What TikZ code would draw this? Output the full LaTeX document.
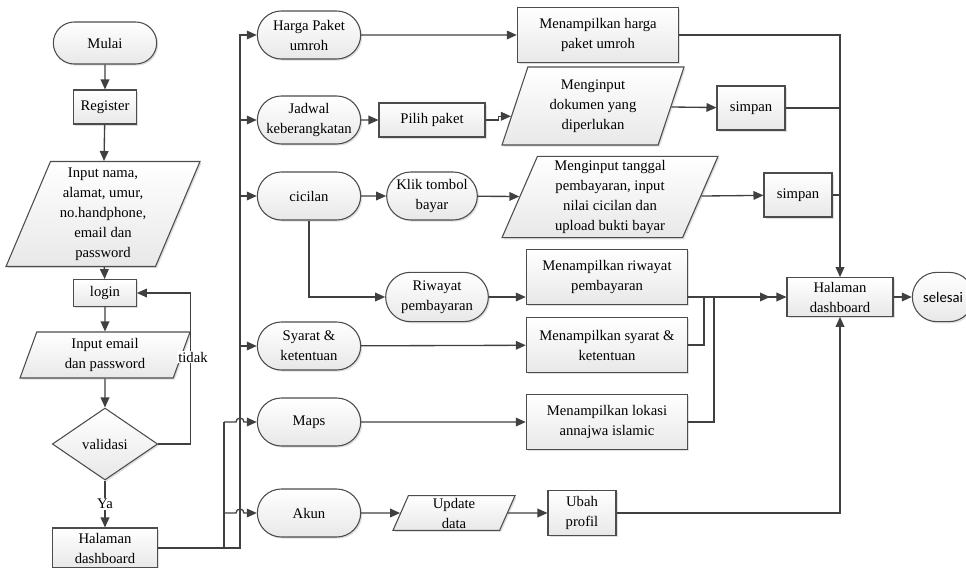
\documentclass[tikz,border=0pt]{standalone}
\usepackage{fontspec}
\setmainfont{Liberation Serif}
\newfontfamily\sansf{Carlito}
\usetikzlibrary{shapes.geometric,shapes.misc,arrows.meta,calc,shadows}

\begin{document}
\begin{tikzpicture}[x=0.75pt,y=-0.75pt,
  font=\fontsize{11}{15}\selectfont,
  base/.style={draw=black!70, line width=0.8pt, top color=white, bottom color=black!9,
    drop shadow={shadow xshift=1.2pt,shadow yshift=-1.2pt,opacity=0.25},
    align=center, inner sep=1pt},
  box/.style={base, rectangle},
  term/.style={base, rounded rectangle},
  io/.style={base, trapezium, trapezium left angle=65, trapezium right angle=115,
    trapezium stretches body},
  dec/.style={base, diamond},
  line/.style={draw=black!75, line width=1pt},
  arr/.style={line, -{Triangle[length=7.5pt,width=6.5pt]}}]
\useasboundingbox (0,0) rectangle (966,567);

% kolom kiri
\node[term, minimum width=79.5pt, minimum height=31.5pt] (mulai) at (105,43) {Mulai};
\node[box, minimum width=47pt, minimum height=25.5pt] (register) at (105,107) {Register};
\node[io, minimum width=145.5pt, minimum height=78.75pt] (inp1) at (103,214)
  {Input nama,\\alamat, umur,\\no.handphone,\\email dan\\password};
\node[box, minimum width=47pt, minimum height=20pt] (login) at (105,293) {login};
\node[io, minimum width=127.5pt, minimum height=34.5pt] (inp2) at (105,355)
  {Input email\\dan password};
\node[dec, minimum width=79pt, minimum height=54pt, inner sep=0pt] (valid) at (105,444) {validasi};
\node[box, minimum width=79pt, minimum height=30pt] (hal1) at (105,548) {Halaman\\dashboard};

% menu
\node[term, minimum width=79.5pt, minimum height=36pt] (harga) at (309,35) {Harga Paket\\umroh};
\node[term, minimum width=79.5pt, minimum height=36pt] (jadwal) at (309,120) {Jadwal\\keberangkatan};
\node[term, minimum width=79.5pt, minimum height=36pt] (cicilan) at (309,196) {cicilan};
\node[term, minimum width=79.5pt, minimum height=36pt] (syarat) at (309,346) {Syarat \&\\ketentuan};
\node[term, minimum width=79.5pt, minimum height=36pt] (maps) at (309,422) {Maps};
\node[term, minimum width=79.5pt, minimum height=36pt] (akun) at (309,513) {Akun};

\node[box, minimum width=79.5pt, minimum height=25.5pt] (pilih) at (432,120) {Pilih paket};
\node[term, minimum width=70pt, minimum height=36pt] (klik) at (432,196) {Klik tombol\\bayar};
\node[term, minimum width=79pt, minimum height=37pt] (riwayat) at (437,297) {Riwayat\\pembayaran};
\node[io, minimum width=91.5pt, minimum height=26pt] (update) at (454,513) {Update\\data};

% proses
\node[box, minimum width=121pt, minimum height=41pt] (mharga) at (598,35) {Menampilkan harga\\paket umroh};
\node[io, minimum width=136.5pt, minimum height=58.5pt] (doc) at (593,106)
  {Menginput\\dokumen yang\\diperlukan};
\node[io, minimum width=162pt, minimum height=61pt] (tgl) at (610,197)
  {Menginput tanggal\\pembayaran, input\\nilai cicilan dan\\upload bukti bayar};
\node[box, minimum width=121pt, minimum height=41pt] (mriwayat) at (607,277) {Menampilkan riwayat\\pembayaran};
\node[box, minimum width=121pt, minimum height=41pt] (msyarat) at (607,345) {Menampilkan syarat \&\\ketentuan};
\node[box, minimum width=121pt, minimum height=41pt] (mlokasi) at (607,422) {Menampilkan lokasi\\annajwa islamic};
\node[box, minimum width=51pt, minimum height=34pt] (ubah) at (582,513) {Ubah\\profil};
\node[box, minimum width=51pt, minimum height=33pt] (simpan1) at (751,108) {simpan};
\node[box, minimum width=51pt, minimum height=33pt] (simpan2) at (798,195) {simpan};
\node[box, minimum width=79.5pt, minimum height=29pt] (hal2) at (840,297) {Halaman\\dashboard};
\node[term, minimum width=48pt, minimum height=37pt, font=\sansf\fontsize{11}{15}\selectfont] (selesai) at (943,297) {selesai};

\coordinate (bus) at (240,548);
\coordinate (bus2) at (224,548);
\coordinate (m1) at (704,297);
\coordinate (m2) at (714,297);
\coordinate (m3) at (770,297);

% alur login
\draw[arr] (mulai) -- (register);
\draw[arr] (register) -- (inp1);
\draw[arr] (inp1) -- (login);
\draw[arr] (login) -- (inp2);
\draw[arr] (inp2) -- (valid);
\draw[arr] (valid) -- node[fill=white, inner sep=1pt] (ya) {Ya} (hal1);
\draw[arr] (valid.east) -- ++(32,0) |- (login.east);
\node[fill=white, inner sep=1pt] (tidak) at (193,357) {tidak};

% percabangan menu
\draw[arr] (hal1.east) -- (bus) |- (harga.west);
\foreach \n in {jadwal,cicilan,syarat}
\draw[arr] (bus |- \n.west) -- (\n.west);
\draw[line] (bus2) -- (bus2 |- maps.west);
\foreach \n in {maps,akun}
\draw[arr] (bus2 |- \n.west) -- ++(12,0) arc[start angle=180,end angle=0,radius=3pt] -- (\n.west);

\draw[arr] (harga) -- (mharga);
\draw[arr] (jadwal) -- (pilih);
\draw[arr] (pilih.east) -- ++(13,0) |- ($(doc.bottom left corner)!0.37!(doc.top left corner)$);
\draw[arr] (doc) -- (simpan1);
\draw[arr] (cicilan) -- (klik);
\draw[arr] (klik) -- (tgl);
\draw[arr] (tgl) -- (simpan2);
\draw[arr] (cicilan.south) |- (riwayat.west);
\draw[arr] (riwayat.east) -- (riwayat.east -| mriwayat.west);
\draw[arr] (syarat) -- (msyarat);
\draw[arr] (maps) -- (mlokasi);
\draw[arr] (akun) -- (update);
\draw[arr] (update) -- (ubah);

% ke dashboard
\draw[arr] (mharga.east) -| (hal2.north);
\draw[line] (simpan1.east) -- (simpan1.east -| hal2.north);
\draw[line] (simpan2.east) -- (simpan2.east -| hal2.north);
\draw[arr] (hal2.west -| mriwayat.east) -- (hal2.west);
\draw[arr] (msyarat.east) -| (m1) -- (m3);
\draw[line] (mlokasi.east) -| (m2);
\draw[arr] (ubah.east) -| (hal2.south);
\draw[arr] (hal2) -- (selesai);
\end{tikzpicture}
\end{document}
